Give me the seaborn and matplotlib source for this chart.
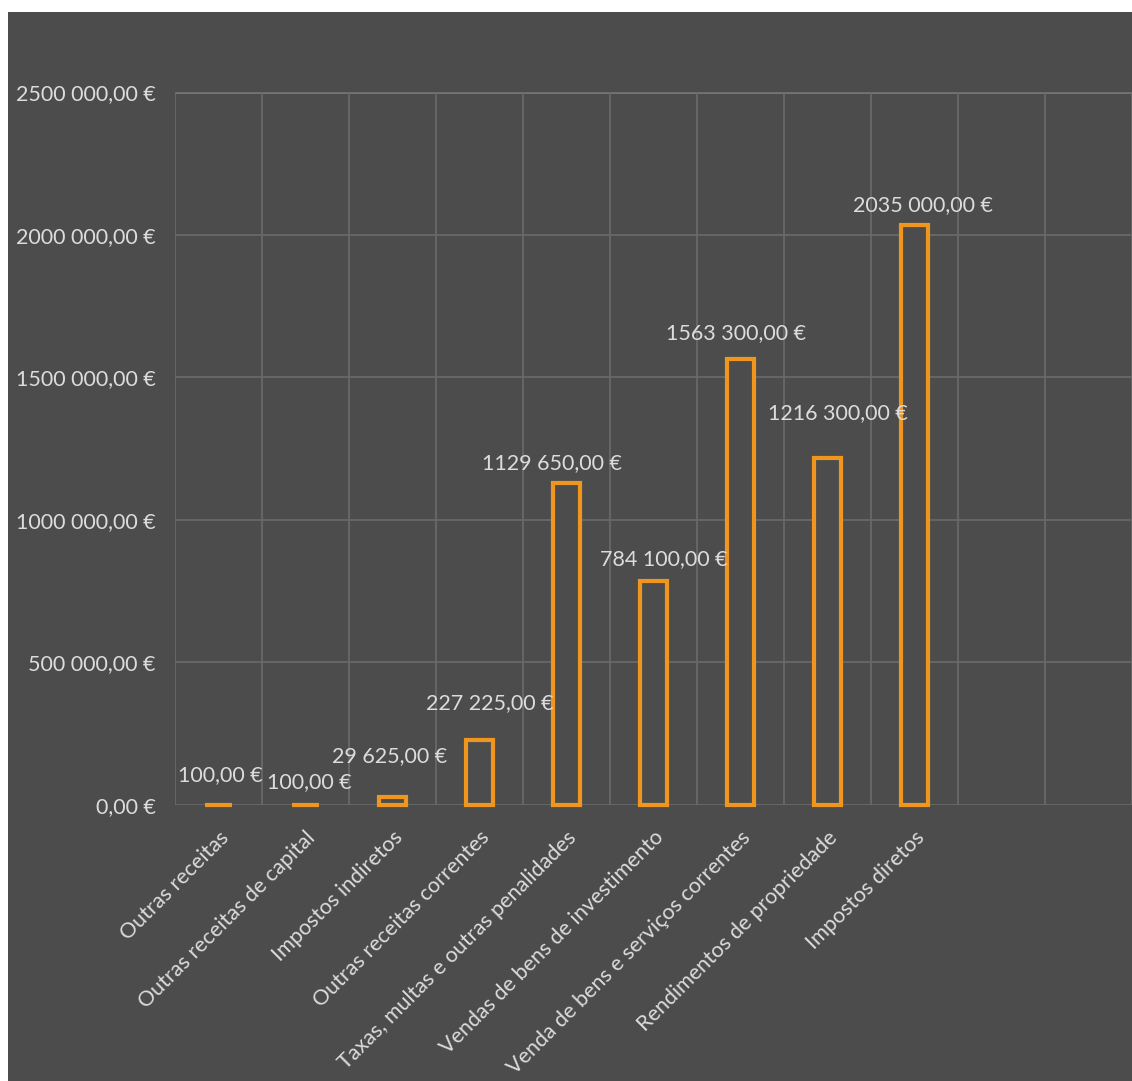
import matplotlib
matplotlib.use("Agg")
import matplotlib.pyplot as plt
import seaborn as sns
import pandas as pd
from matplotlib.patches import Rectangle

categories = [
    "Outras receitas",
    "Outras receitas de capital",
    "Impostos indiretos",
    "Outras receitas correntes",
    "Taxas, multas e outras penalidades",
    "Vendas de bens de investimento",
    "Venda de bens e serviços correntes",
    "Rendimentos de propriedade",
    "Impostos diretos",
]
values = [100.00, 100.00, 29625.00, 227225.00, 1129650.00, 784100.00, 1563300.00, 1216300.00, 2035000.00]
value_labels = [
    "100,00 €", "100,00 €", "29 625,00 €", "227 225,00 €", "1129 650,00 €",
    "784 100,00 €", "1563 300,00 €", "1216 300,00 €", "2035 000,00 €",
]
yticks = [0, 500000, 1000000, 1500000, 2000000, 2500000]
ytick_labels = ["0,00 €", "500 000,00 €", "1000 000,00 €", "1500 000,00 €", "2000 000,00 €", "2500 000,00 €"]

# label offsets in pixels (dx, dy) relative to bar top centre
label_offsets = [(2, 30), (4, 23), (-3, 40), (10, 37), (-15, 20), (10, 22), (-5, 26), (10, 45), (8, 20)]

BG = "#4c4c4c"
ORANGE = "#f0961e"
TXT = "#dcdcdc"
GRID = "#6b6b6b"
FS = 15.5

sns.set_theme(style="dark")
plt.rcParams["font.family"] = ["Lato", "DejaVu Sans"]

fig = plt.figure(figsize=(11.32, 10.81), dpi=100)
fig.patch.set_facecolor("white")
fig.patches.append(Rectangle((8 / 1132, 0), 1, 1 - 12 / 1081, transform=fig.transFigure,
                             facecolor=BG, edgecolor="none", zorder=-10))

ax = fig.add_axes([175 / 1132, 1 - 805 / 1081, (1132 - 175) / 1132, (805 - 92) / 1081])
ax.set_facecolor(BG)

df = pd.DataFrame({"cat": categories, "val": values})
sns.barplot(data=df, x="cat", y="val", ax=ax, width=0.32, color=BG,
            edgecolor=ORANGE, linewidth=3, saturation=1)
for p in ax.patches:
    p.set_facecolor(BG)
    p.set_clip_on(False)

ax.set_xlim(-0.5, 10.38)
ax.set_ylim(0, 2500000)
ax.set_yticks(yticks)
ax.set_yticklabels(ytick_labels, color=TXT, fontsize=FS)
ax.set_xticks(range(len(categories)))
ax.set_xticklabels(categories, rotation=45, ha="right", rotation_mode="anchor",
                   color=TXT, fontsize=FS)
ax.tick_params(axis="x", length=0, pad=16)
ax.tick_params(axis="y", length=0, pad=14)
ax.set_xlabel("")
ax.set_ylabel("")

# grid
ax.set_xticks([i + 0.5 for i in range(-1, 11)], minor=True)
ax.tick_params(axis="x", which="minor", length=0)
ax.grid(False)
ax.grid(axis="x", which="minor", color=GRID, linewidth=1.2)
ax.grid(axis="y", which="major", color=GRID, linewidth=1.2)
ax.set_axisbelow(True)
for s in ax.spines.values():
    s.set_visible(False)
ax.axhline(2500000, color="#7a7a7a", linewidth=2, zorder=0.5)

for i, (v, lab) in enumerate(zip(values, value_labels)):
    dx, dy = label_offsets[i]
    ax.annotate(lab, (i, v), xytext=(dx, dy), textcoords="offset pixels",
                ha="center", va="center", color=TXT, fontsize=FS)

fig.savefig("out.png", dpi=100, facecolor=fig.get_facecolor())
